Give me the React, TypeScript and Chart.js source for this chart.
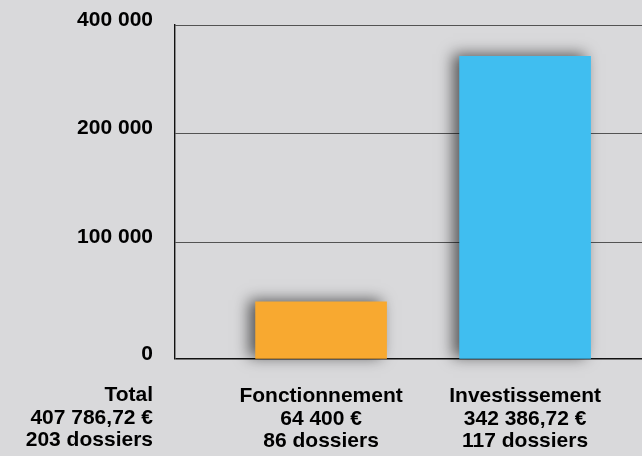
import React, { useEffect, useRef } from 'react';
import { Chart, registerables, LinearScale } from 'chart.js';

// ---- data ----
const categories = ['Fonctionnement', 'Investissement'];
const amountLabels = ['64 400 €', '342 386,72 €'];
const dossierLabels = ['86 dossiers', '117 dossiers'];
// bar heights as read off the (non-uniform) value axis
const barValues = [49000, 342400];
const barColors = ['#F8A930', '#40BEF0'];
const totalLines = ['Total', '407 786,72 €', '203 dossiers'];
const yTickValues = [0, 100000, 200000, 400000];

// axis layout: where each tick sits along the axis (fraction of its length)
const yTickFractions = [0, 0.349, 0.675, 1];

const toFraction = (v: number) => {
  const vs = yTickValues;
  const fs = yTickFractions;
  if (v <= vs[0]) return fs[0];
  for (let i = 1; i < vs.length; i++) {
    if (v <= vs[i]) {
      return fs[i - 1] + ((v - vs[i - 1]) / (vs[i] - vs[i - 1])) * (fs[i] - fs[i - 1]);
    }
  }
  const n = vs.length - 1;
  return fs[n] + ((v - vs[n]) / (vs[n] - vs[n - 1])) * (fs[n] - fs[n - 1]);
};
const fromFraction = (f: number) => {
  const vs = yTickValues;
  const fs = yTickFractions;
  for (let i = 1; i < fs.length; i++) {
    if (f <= fs[i]) {
      return vs[i - 1] + ((f - fs[i - 1]) / (fs[i] - fs[i - 1])) * (vs[i] - vs[i - 1]);
    }
  }
  return vs[vs.length - 1];
};

class PiecewiseScale extends (LinearScale as any) {
  static id = 'piecewise';
  static defaults = (LinearScale as any).defaults;
  getPixelForValue(value: any) {
    if (value === null || value === undefined || isNaN(value)) return NaN;
    return (this as any).getPixelForDecimal(toFraction(value));
  }
  getValueForPixel(pixel: number) {
    return fromFraction((this as any).getDecimalForPixel(pixel));
  }
}

Chart.register(...registerables, PiecewiseScale as any);

const FONT_FAMILY = '"Liberation Sans", Arial, Helvetica, sans-serif';
const FONT_SIZE = 21;
const LINE_HEIGHT = 22.5;

const fmt = (v: number) => String(v).replace(/\B(?=(\d{3})+(?!\d))/g, ' ');

const shadowPlugin = {
  id: 'barShadow',
  beforeDatasetsDraw(chart: any) {
    const ctx = chart.ctx;
    ctx.save();
    ctx.shadowColor = 'rgba(0,0,0,0.6)';
    ctx.shadowBlur = 14;
    ctx.shadowOffsetX = -6;
    ctx.shadowOffsetY = -2;
  },
  afterDatasetsDraw(chart: any) {
    chart.ctx.restore();
  },
};

const totalPlugin = {
  id: 'totalLabel',
  afterDraw(chart: any) {
    const ctx = chart.ctx;
    const xScale = chart.scales.x;
    ctx.save();
    ctx.font = `bold ${FONT_SIZE}px ${FONT_FAMILY}`;
    ctx.fillStyle = '#000';
    ctx.textAlign = 'right';
    ctx.textBaseline = 'middle';
    const x = chart.chartArea.left - 22;
    totalLines.forEach((line, i) => {
      ctx.fillText(line, x, xScale.top + 25 + LINE_HEIGHT / 2 + i * LINE_HEIGHT);
    });
    ctx.restore();
  },
};

export default function App() {
  const canvasRef = useRef<HTMLCanvasElement | null>(null);

  useEffect(() => {
    document.body.style.margin = '0';
    document.body.style.background = '#d9d9db';
    const canvas = canvasRef.current;
    if (!canvas) return;
    const positions = categories.map((_, i) => i + 1);
    const chart = new Chart(canvas, {
      type: 'bar',
      data: {
        datasets: [
          {
            data: positions.map((p, i) => ({ x: p, y: barValues[i] })),
            backgroundColor: barColors,
            borderWidth: 0,
            barThickness: 131,
            clip: false as any,
          },
        ],
      },
      plugins: [shadowPlugin, totalPlugin],
      options: {
        animation: false,
        responsive: false,
        devicePixelRatio: 1,
        layout: { padding: { top: 25, right: 0, bottom: 0, left: 0 } },
        plugins: {
          legend: { display: false },
          tooltip: { enabled: false },
        },
        scales: {
          x: {
            type: 'linear',
            offset: false,
            min: 0.284,
            max: 2.573,
            grid: { display: false },
            border: { display: false },
            afterBuildTicks: (scale: any) => {
              scale.ticks = positions.map((p) => ({ value: p }));
            },
            afterFit: (scale: any) => {
              scale.height = 97;
              scale.paddingLeft = 0;
              scale.paddingRight = 0;
            },
            ticks: {
              autoSkip: false,
              maxRotation: 0,
              padding: 18,
              color: '#000',
              font: { family: FONT_FAMILY, size: FONT_SIZE, weight: 'bold', lineHeight: LINE_HEIGHT / FONT_SIZE },
              callback: (value: any) => {
                const i = Math.round(Number(value)) - 1;
                if (i < 0 || i >= categories.length) return '';
                return [categories[i], amountLabels[i], dossierLabels[i]];
              },
            },
          },
          y: {
            type: 'piecewise' as any,
            min: 0,
            max: 400000,
            z: 1,
            afterBuildTicks: (scale: any) => {
              scale.ticks = yTickValues.map((v) => ({ value: v }));
            },
            afterFit: (scale: any) => {
              scale.width = 175;
              scale.paddingTop = 0;
              scale.paddingBottom = 0;
            },
            grid: {
              drawTicks: false,
              color: (ctx: any) => (ctx.tick && ctx.tick.value === 0 ? '#111' : 'rgba(0,0,0,0.62)'),
              lineWidth: (ctx: any) => (ctx.tick && ctx.tick.value === 0 ? 1.4 : 1),
            },
            border: { display: true, color: '#111', width: 1.4 },
            ticks: {
              padding: 22,
              labelOffset: -5,
              color: '#000',
              font: { family: FONT_FAMILY, size: FONT_SIZE, weight: 'bold' },
              callback: (value: any) => fmt(Number(value)),
            },
          } as any,
        },
      } as any,
    });
    return () => chart.destroy();
  }, []);

  return (
    <div style={{ width: 642, height: 456, background: '#d9d9db' }}>
      <canvas ref={canvasRef} width={642} height={456} style={{ display: 'block' }} />
    </div>
  );
}
